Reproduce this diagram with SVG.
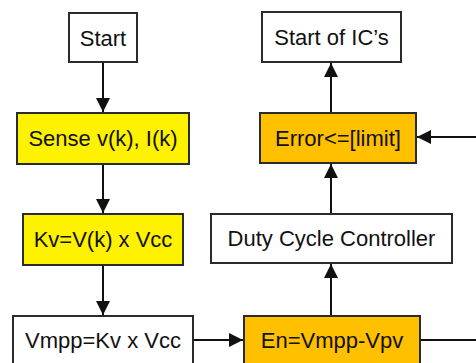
<svg xmlns="http://www.w3.org/2000/svg" width="476" height="363" viewBox="0 0 476 363">
<defs>
<style>
.box{stroke:#2b2b2b;stroke-width:2}
.w{fill:#ffffff}
.y{fill:#fff200}
.o{fill:#ffc000}
.t{font-family:"Liberation Sans",Arial,sans-serif;font-size:22px;fill:#111;text-anchor:middle}
.c{stroke:#111;stroke-width:2;fill:none}
</style>
<marker id="ah" viewBox="0 0 10 10" refX="10" refY="5" markerWidth="14" markerHeight="14" markerUnits="userSpaceOnUse" orient="auto">
<path d="M0,0 L10,5 L0,10 z" fill="#111"/>
</marker>
</defs>
<rect width="476" height="363" fill="#ffffff"/>
<g id="connectors">
<line class="c" x1="103" y1="62" x2="103" y2="112" marker-end="url(#ah)"/>
<line class="c" x1="103" y1="164" x2="103" y2="213" marker-end="url(#ah)"/>
<line class="c" x1="103" y1="265" x2="103" y2="315" marker-end="url(#ah)"/>
<line class="c" x1="193" y1="340" x2="243" y2="340" marker-end="url(#ah)"/>
<line class="c" x1="420" y1="340" x2="476" y2="340"/>
<line class="c" x1="476" y1="137" x2="417" y2="137" marker-end="url(#ah)"/>
<line class="c" x1="331" y1="316" x2="331" y2="264" marker-end="url(#ah)"/>
<line class="c" x1="331" y1="214" x2="331" y2="164" marker-end="url(#ah)"/>
<line class="c" x1="331" y1="113" x2="331" y2="63" marker-end="url(#ah)"/>
</g>
<g id="start">
<rect class="box w" x="69" y="13" width="68" height="49"/>
<text class="t" x="103" y="45.5">Start</text>
</g>
<g id="sense">
<rect class="box y" x="17" y="113" width="172" height="51"/>
<text class="t" x="103" y="146">Sense v(k), I(k)</text>
</g>
<g id="kv">
<rect class="box y" x="23" y="214" width="160" height="51"/>
<text class="t" x="103" y="247">Kv=V(k) x Vcc</text>
</g>
<g id="vmpp">
<rect class="box w" x="13" y="316" width="180" height="50"/>
<text class="t" x="103" y="348">Vmpp=Kv x Vcc</text>
</g>
<g id="en">
<rect class="box o" x="244" y="316" width="176" height="50"/>
<text class="t" x="332" y="348">En=Vmpp-Vpv</text>
</g>
<g id="duty">
<rect class="box w" x="211" y="214" width="241" height="49"/>
<text class="t" x="331.5" y="246">Duty Cycle Controller</text>
</g>
<g id="error">
<rect class="box o" x="260" y="113" width="156" height="50"/>
<text class="t" x="338" y="145.5">Error&lt;=[limit]</text>
</g>
<g id="startics">
<rect class="box w" x="262" y="12" width="139" height="50"/>
<text class="t" x="331.5" y="45">Start of IC’s</text>
</g>
</svg>
